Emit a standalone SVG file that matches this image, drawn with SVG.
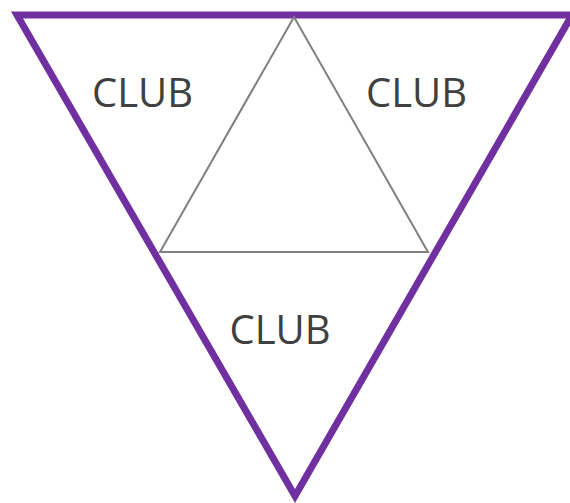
<svg xmlns="http://www.w3.org/2000/svg" width="570" height="503" viewBox="0 0 570 503">
<style>
.lbl{font-family:"Open Sans","Liberation Sans",sans-serif;font-size:40px;fill:#404040;text-anchor:middle}
</style>
<rect width="570" height="503" fill="#ffffff"/>
<g id="outer"><polygon points="17,15 572,15 295,496" fill="none" stroke="#7030A0" stroke-width="7" stroke-linejoin="miter"/></g>
<g id="connectors"><polygon points="294,17 160,252 428,252" fill="none" stroke="#808080" stroke-width="2"/></g>
<g id="club1"><text class="lbl" x="142.5" y="107">CLUB</text></g>
<g id="club2"><text class="lbl" x="416.5" y="107">CLUB</text></g>
<g id="club3"><text class="lbl" x="280" y="344">CLUB</text></g>
</svg>
